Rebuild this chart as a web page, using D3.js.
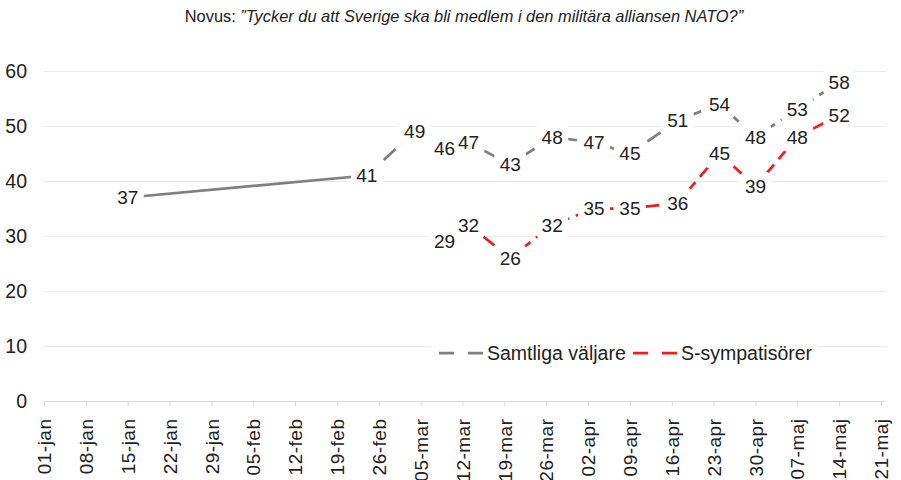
<!DOCTYPE html>
<html>
<head>
<meta charset="utf-8">
<script src="https://cdn.jsdelivr.net/npm/d3@7"></script>
<style>
  body { margin: 0; background: #fff; }
  svg { font-family: "Liberation Sans", Arial, sans-serif; }
</style>
</head>
<body>
<svg width="901" height="480"></svg>
<script>
// tick labels on x axis (weekly)
const tickLabels = ["01-jan", "08-jan", "15-jan", "22-jan", "29-jan", "05-feb", "12-feb", "19-feb", "26-feb",
    "05-mar", "12-mar", "19-mar", "26-mar", "02-apr", "09-apr", "16-apr", "23-apr", "30-apr",
    "07-maj", "14-maj", "21-maj"];
const yTicks = [0, 10, 20, 30, 40, 50, 60];

// Samtliga väljare
const allDates = ["15-jan", "24-feb", "04-mar", "09-mar", "13-mar", "20-mar", "27-mar", "03-apr",
    "09-apr", "17-apr", "24-apr", "30-apr", "07-maj", "14-maj"];
const allValues = [37, 41, 49, 46, 47, 43, 48, 47, 45, 51, 54, 48, 53, 58];

// S-sympatisörer
const sDates = ["09-mar", "13-mar", "20-mar", "27-mar", "03-apr", "09-apr", "17-apr", "24-apr",
    "30-apr", "07-maj", "14-maj"];
const sValues = [29, 32, 26, 32, 35, 35, 36, 45, 39, 48, 52];

const months = { jan: 0, feb: 1, mar: 2, apr: 3, maj: 4 };
const parse = s => new Date(Date.UTC(2022, months[s.slice(3)], +s.slice(0, 2)));

let margin = { top: 71, right: 20, bottom: 79, left: 44 };
let width = 901, height = 480;

const svg = d3.select("svg");

const tickDates = tickLabels.map(parse);
const x = d3.scaleUtc()
    .domain([tickDates[0], tickDates[tickDates.length - 1]])
    .range([44, 881]);
const y = d3.scaleLinear()
    .domain([0, 60])
    .range([height - margin.bottom, margin.top]);

// title
const title = svg.append("text")
    .attr("x", 464)
    .attr("y", 22)
    .attr("text-anchor", "middle")
    .attr("font-size", 16.4)
    .attr("fill", "#222");
title.append("tspan").text("Novus: ");
title.append("tspan").attr("font-style", "italic")
    .text("\u201DTycker du att Sverige ska bli medlem i den militära alliansen NATO?\u201D");

// gridlines
svg.append("g")
    .selectAll("line")
    .data(yTicks.slice(1))
    .join("line")
    .attr("x1", 44).attr("x2", 886)
    .attr("y1", d => Math.round(y(d)) + 0.5)
    .attr("y2", d => Math.round(y(d)) + 0.5)
    .attr("stroke", "#ebebeb");

// y axis
svg.append("g")
    .attr("transform", "translate(44,0)")
    .call(d3.axisLeft(y).tickValues(yTicks).tickSize(0).tickPadding(17))
    .call(g => g.select(".domain").remove())
    .call(g => g.selectAll("text")
        .attr("font-size", 19.5)
        .attr("font-family", "Liberation Sans, Arial, sans-serif")
        .attr("fill", "#222"));

// x axis
svg.append("g")
    .attr("transform", "translate(0," + (Math.round(y(0)) + 0.5) + ")")
    .call(d3.axisBottom(x).tickValues(tickDates).tickFormat((d, i) => tickLabels[i]).tickSize(5).tickSizeOuter(0))
    .call(g => g.select(".domain").attr("stroke", "#d9d9d9").attr("d", "M44,0H886"))
    .call(g => g.selectAll(".tick line").attr("stroke", "#d9d9d9"))
    .call(g => g.selectAll("text")
        .attr("font-size", 19)
        .attr("font-family", "Liberation Sans, Arial, sans-serif")
        .attr("fill", "#222")
        .attr("letter-spacing", 0.5)
        .attr("text-anchor", "end")
        .attr("transform", "rotate(-90)")
        .attr("x", -17)
        .attr("y", 0)
        .attr("dy", "0.35em"));

const line = d3.line()
    .x(d => x(d.date))
    .y(d => y(d.value));

const allData = allDates.map((d, i) => ({ date: parse(d), value: allValues[i] }));
const sData = sDates.map((d, i) => ({ date: parse(d), value: sValues[i] }));

const grey = "#7f7f7f", red = "#ee1c25";

svg.append("path")
    .datum(allData.slice(0, 2))
    .attr("fill", "none")
    .attr("stroke", grey)
    .attr("stroke-width", 2.75)
    .attr("d", line);

svg.append("path")
    .datum(allData.slice(1))
    .attr("fill", "none")
    .attr("stroke", grey)
    .attr("stroke-width", 2.75)
    .attr("stroke-dasharray", "16,7")
    .attr("d", line);

svg.append("path")
    .datum(sData)
    .attr("fill", "none")
    .attr("stroke", red)
    .attr("stroke-width", 2.75)
    .attr("stroke-dasharray", "16,7")
    .attr("d", line);

// data labels: white boxes first, then all texts on top
const labelData = allData.concat(sData);
svg.append("g")
    .selectAll("rect")
    .data(labelData)
    .join("rect")
    .attr("x", d => x(d.date) - 16).attr("y", d => y(d.value) - 15)
    .attr("width", 32).attr("height", 30)
    .attr("rx", 7)
    .attr("fill", "#fff");
svg.append("g")
    .selectAll("text")
    .data(labelData)
    .join("text")
    .attr("x", d => x(d.date))
    .attr("y", d => y(d.value))
    .attr("text-anchor", "middle")
    .attr("dy", "0.36em")
    .attr("font-size", 19)
    .attr("fill", "#222")
    .text(d => d.value);

// legend
const legend = svg.append("g");
legend.append("rect")
    .attr("x", 430).attr("y", 338).attr("width", 388).attr("height", 30)
    .attr("fill", "#fff");
const items = [
    { name: "Samtliga väljare", color: grey, x: 439 },
    { name: "S-sympatisörer", color: red, x: 633 }
];
items.forEach(it => {
    legend.append("line")
        .attr("x1", it.x).attr("x2", it.x + 44)
        .attr("y1", 353).attr("y2", 353)
        .attr("stroke", it.color)
        .attr("stroke-width", 2.75)
        .attr("stroke-dasharray", "15,14");
    legend.append("text")
        .attr("x", it.x + 48)
        .attr("y", 353)
        .attr("dy", "0.36em")
        .attr("font-size", 19.5)
        .attr("fill", "#222")
        .text(it.name);
});
</script>
</body>
</html>
